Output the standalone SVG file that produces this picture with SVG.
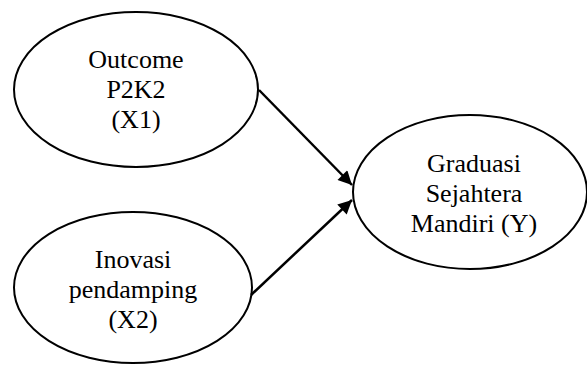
<svg xmlns="http://www.w3.org/2000/svg" width="587" height="365" viewBox="0 0 587 365">
<style>
.node{fill:#fff;stroke:#000;stroke-width:2}
.lbl{font-family:"Liberation Serif","Times New Roman",serif;font-size:26px;fill:#000;text-anchor:middle}
.edge{stroke:#000;stroke-width:2.5;fill:none}
</style>
<defs>
<marker id="arr" viewBox="0 0 10 10" refX="10" refY="5" markerWidth="6.5" markerHeight="5.5" markerUnits="strokeWidth" orient="auto">
<path d="M0,0 L10,5 L0,10 z" fill="#000"/>
</marker>
</defs>
<rect width="587" height="365" fill="#fff"/>
<g id="x1">
<ellipse class="node" cx="136" cy="89.5" rx="122" ry="77.5"/>
<text class="lbl" x="136" y="68">Outcome</text>
<text class="lbl" x="136" y="98">P2K2</text>
<text class="lbl" x="136" y="128">(X1)</text>
</g>
<g id="x2">
<ellipse class="node" cx="133" cy="287.5" rx="119" ry="75.5"/>
<text class="lbl" x="133" y="268">Inovasi</text>
<text class="lbl" x="133" y="298">pendamping</text>
<text class="lbl" x="133" y="328">(X2)</text>
</g>
<g id="y">
<ellipse class="node" cx="470" cy="192" rx="117" ry="77"/>
<text class="lbl" x="474" y="172">Graduasi</text>
<text class="lbl" x="474" y="202">Sejahtera</text>
<text class="lbl" x="474" y="232">Mandiri (Y)</text>
</g>
<g id="connectors">
<line class="edge" x1="259" y1="90" x2="352" y2="185" marker-end="url(#arr)"/>
<line class="edge" x1="251" y1="295" x2="352" y2="200" marker-end="url(#arr)"/>
</g>
</svg>
